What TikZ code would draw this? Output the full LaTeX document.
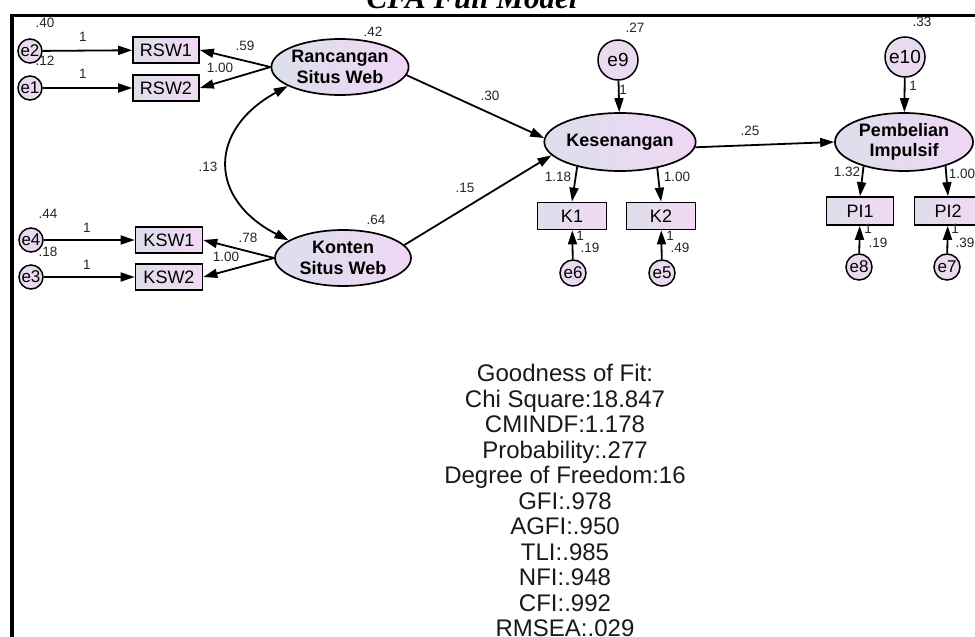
\documentclass[tikz,border=0pt]{standalone}
\usepackage{fontspec}
\setmainfont{Liberation Sans}
\newfontfamily\titlefont{Liberation Serif}
\usetikzlibrary{shapes.geometric,arrows.meta}
\definecolor{lavL}{RGB}{220,223,236}
\definecolor{lavR}{RGB}{240,214,244}
\definecolor{boxL}{RGB}{222,222,234}
\definecolor{boxR}{RGB}{242,216,244}
\definecolor{errC}{RGB}{234,218,240}
\tikzset{
  lat/.style={ellipse, draw, line width=1.7pt, minimum width=136pt, minimum height=56pt, inner sep=0pt,
    left color=lavL, right color=lavR, align=center, font=\fontsize{18}{20.5}\selectfont\bfseries},
  obs/.style={rectangle, draw, line width=1.7pt, minimum width=66pt, minimum height=26pt, inner sep=0pt,
    left color=boxL, right color=boxR, font=\fontsize{18}{18}\selectfont},
  err/.style={circle, draw, line width=1.5pt, minimum size=24pt, inner sep=0pt, fill=errC,
    font=\fontsize{17}{17}\selectfont},
  errbig/.style={err, minimum size=40pt, font=\fontsize{19}{19}\selectfont},
  lab/.style={inner sep=0pt, text=black!85, font=\fontsize{13.5}{13.5}\selectfont},
  arr/.style={line width=1.8pt, -{Triangle[length=14pt,width=9pt]}},
  darr/.style={line width=1.8pt, {Triangle[length=14pt,width=9pt]}-{Triangle[length=14pt,width=9pt]}},
}
\begin{document}
\begin{tikzpicture}[x=1pt,y=-1pt]
\useasboundingbox (0,0) rectangle (975,637);
\fill[white] (0,0) rectangle (975,637);
% frame and title
\node[anchor=base, inner sep=0pt, font=\fontsize{31}{31}\titlefont\bfseries\itshape] (title) at (472,9) {CFA Full Model};
\draw[line width=3.5pt] (10,15.6) -- (980,15.6);
\draw[line width=4pt] (12,14) -- (12,645);

% latent variables
\node[lat] (ran) at (340,67) {Rancangan\\Situs Web};
\node[lat] (kon) at (343,258) {Konten\\Situs Web};
\node[lat, minimum height=58pt] (kes) at (620,142) {Kesenangan};
\node[lat, minimum width=138pt, minimum height=58pt] (pem) at (904,142) {Pembelian\\Impulsif};

% observed
\node[obs] (rsw1) at (166,50) {RSW1};
\node[obs] (rsw2) at (166,88) {RSW2};
\node[obs, minimum width=67pt] (ksw1) at (169,240) {KSW1};
\node[obs, minimum width=67pt] (ksw2) at (169,277) {KSW2};
\node[obs, minimum width=69pt, minimum height=27pt] (k1) at (572,216) {K1};
\node[obs, minimum width=69pt, minimum height=27pt] (k2) at (661,216) {K2};
\node[obs, minimum width=67pt, minimum height=28pt] (pi1) at (860,211) {PI1};
\node[obs, minimum width=67pt, minimum height=28pt] (pi2) at (948,211) {PI2};

% errors
\node[err] (e2) at (30,51) {e2};
\node[err] (e1) at (30,88) {e1};
\node[err] (e4) at (31,240) {e4};
\node[err] (e3) at (31,277) {e3};
\node[err, minimum size=26pt] (e6) at (573,273) {e6};
\node[err, minimum size=26pt] (e5) at (662,273) {e5};
\node[err, minimum size=26pt] (e8) at (859,267) {e8};
\node[err, minimum size=26pt] (e7) at (947,267) {e7};
\node[errbig] (e9) at (618,60) {e9};
\node[errbig] (e10) at (905,57) {e10};

% connectors
\draw[arr] (e2) -- (rsw1);
\draw[arr] (e1) -- (rsw2);
\draw[arr] (e4) -- (ksw1);
\draw[arr] (e3) -- (ksw2);
\draw[arr] (ran.west) -- (rsw1.east);
\draw[arr] (ran.west) -- (rsw2.east);
\draw[arr] (kon.west) -- (ksw1.east);
\draw[arr] (kon.west) -- (ksw2.east);
\draw[darr] (ran.200) .. controls (208,130) and (208,199) .. (kon.162);
\draw[arr] (ran.-7) -- (kes.177);
\draw[arr] (kon.12) -- (kes.191);
\draw[arr] (kes.-4) -- (pem.west);
\draw[arr] (e9) -- (kes);
\draw[arr] (e10) -- (pem);
\draw[arr] (kes.210) -- (k1.north);
\draw[arr] (kes.-35) -- (k2.north);
\draw[arr] (pem.211) -- (pi1.north);
\draw[arr] (pem.-30) -- (pi2.north);
\draw[arr] (e6) -- (k1);
\draw[arr] (e5) -- (k2);
\draw[arr] (e8) -- (pi1);
\draw[arr] (e7) -- (pi2);

% labels
\node[lab] (l1) at (45,23) {.40};
\node[lab] (l2) at (45,61) {.12};
\node[lab] (l3) at (83,37) {1};
\node[lab] (l4) at (83,74) {1};
\node[lab] (l5) at (48,214) {.44};
\node[lab] (l6) at (48,252) {.18};
\node[lab] (l7) at (87,228) {1};
\node[lab] (l8) at (87,265) {1};
\node[lab] (l9) at (245,46) {.59};
\node[lab] (l10) at (220,68) {1.00};
\node[lab] (l11) at (248,238) {.78};
\node[lab] (l12) at (226,257) {1.00};
\node[lab] (l13) at (208,167) {.13};
\node[lab] (l14) at (373,32) {.42};
\node[lab] (l15) at (376,220) {.64};
\node[lab] (l16) at (490,96) {.30};
\node[lab] (l17) at (465,188) {.15};
\node[lab] (l18) at (750,131) {.25};
\node[lab] (l19) at (635,28) {.27};
\node[lab] (l20) at (623,90) {1};
\node[lab] (l21) at (922,22) {.33};
\node[lab] (l22) at (913,86) {1};
\node[lab] (l23) at (558,177) {1.18};
\node[lab] (l24) at (677,177) {1.00};
\node[lab] (l25) at (580,236) {1};
\node[lab] (l26) at (590,248) {.19};
\node[lab] (l27) at (670,236) {1};
\node[lab] (l28) at (680,248) {.49};
\node[lab] (l29) at (847,172) {1.32};
\node[lab] (l30) at (962,174) {1.00};
\node[lab] (l31) at (868,229) {1};
\node[lab] (l32) at (878,243) {.19};
\node[lab] (l33) at (955,229) {1};
\node[lab] (l34) at (965,243) {.39};

% goodness of fit
\node[anchor=north, align=center, inner sep=0pt, text=black!90, font=\fontsize{24}{25.5}\selectfont] (gof) at (565,364)
  {Goodness of Fit:\\Chi Square:18.847\\CMINDF:1.178\\Probability:.277\\Degree of Freedom:16\\GFI:.978\\AGFI:.950\\TLI:.985\\NFI:.948\\CFI:.992\\RMSEA:.029};
\end{tikzpicture}
\end{document}
